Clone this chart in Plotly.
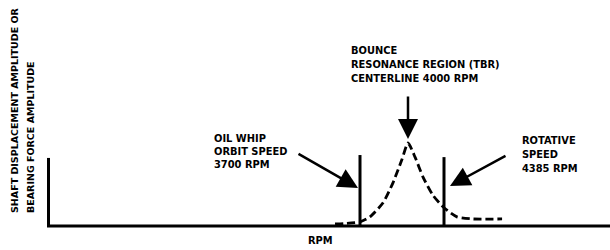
import plotly.graph_objects as go

# ---- data (schematic) ----
curve_rpm = [3544, 3600, 3700, 3762, 3844, 3906, 3962, 4000, 4044, 4094, 4156, 4225, 4306, 4406, 4588]
curve_amp = [0.024, 0.03, 0.05, 0.11, 0.28, 0.52, 0.80, 1.0, 0.83, 0.59, 0.37, 0.22, 0.11, 0.085, 0.085]
oil_whip_rpm = 3700
oil_whip_amp = 0.855
rotative_rpm = 4225
rotative_amp = 0.83
left_marker_amp = 0.82

y_title_lines = ["SHAFT DISPLACEMENT AMPLITUDE OR", "BEARING FORCE AMPLITUDE"]
bounce_lines = ["BOUNCE", "RESONANCE REGION (TBR)", "CENTERLINE 4000 RPM"]
oil_lines = ["OIL WHIP", "ORBIT SPEED", "3700 RPM"]
rot_lines = ["ROTATIVE", "SPEED", "4385 RPM"]

# ---- pixel <-> data helpers for layout placement ----
def X(px):
    return 3700 + (px - 360) / 0.16

def Y(py):
    return (226 - py) / 83.0

FONT = dict(family="DejaVu Sans", size=9.9, color="black", weight="bold")
TITLE_FONT = dict(family="DejaVu Sans", size=9.5, color="black", weight="bold")

fig = go.Figure()
# baseline
fig.add_trace(go.Scatter(x=[X(47), X(620)], y=[0, 0], mode="lines",
                         line=dict(color="black", width=3), hoverinfo="skip"))
# left marker
fig.add_trace(go.Scatter(x=[X(48.5), X(48.5)], y=[0, left_marker_amp], mode="lines",
                         line=dict(color="black", width=3), hoverinfo="skip"))
# oil whip line
fig.add_trace(go.Scatter(x=[oil_whip_rpm, oil_whip_rpm], y=[0, oil_whip_amp], mode="lines",
                         line=dict(color="black", width=3), hoverinfo="skip"))
# rotative line
fig.add_trace(go.Scatter(x=[rotative_rpm, rotative_rpm], y=[0, rotative_amp], mode="lines",
                         line=dict(color="black", width=3), hoverinfo="skip"))
# dashed resonance curve
fig.add_trace(go.Scatter(x=curve_rpm, y=curve_amp, mode="lines",
                         line=dict(color="black", width=2.8, dash="8px,4px", shape="spline", smoothing=0.6),
                         hoverinfo="skip"))

ann = []
def text_lines(lines, px, pys):
    for t, py in zip(lines, pys):
        ann.append(dict(x=X(px), y=Y(py), text=t, showarrow=False,
                        xanchor="left", yanchor="middle", font=FONT))

text_lines(bounce_lines, 349, [50, 64, 78])
text_lines(oil_lines, 212, [138, 151, 164])
text_lines(rot_lines, 520, [140, 154, 168])

# y title (rotated)
ann.append(dict(x=X(14), y=Y(215), text=y_title_lines[0], showarrow=False, textangle=-90,
                xanchor="center", yanchor="bottom", font=TITLE_FONT))
ann.append(dict(x=X(30), y=Y(215), text=y_title_lines[1], showarrow=False, textangle=-90,
                xanchor="center", yanchor="bottom", font=TITLE_FONT))
# x title
ann.append(dict(x=X(306), y=Y(240), text="RPM", showarrow=False, xanchor="left",
                yanchor="middle", font=FONT))

# arrows
arrow_style = dict(showarrow=True, arrowhead=2, arrowsize=1.6, arrowwidth=2.5,
                   arrowcolor="black", text="", axref="pixel", ayref="pixel")
ann.append(dict(x=X(408), y=Y(139), ax=0, ay=-44, **arrow_style))
ann.append(dict(x=X(358), y=Y(188), ax=-61, ay=-35, **arrow_style))
ann.append(dict(x=X(450), y=Y(186), ax=57, ay=-31, **arrow_style))

fig.update_layout(
    width=610, height=250,
    margin=dict(l=0, r=0, t=0, b=0),
    paper_bgcolor="white", plot_bgcolor="white",
    showlegend=False,
    xaxis=dict(range=[X(0), X(610)], visible=False, fixedrange=True),
    yaxis=dict(range=[Y(250), Y(0)], visible=False, fixedrange=True),
    annotations=ann,
)

fig.write_html("out.html", config={"displayModeBar": False},
               post_script="document.body.style.margin='0';")
